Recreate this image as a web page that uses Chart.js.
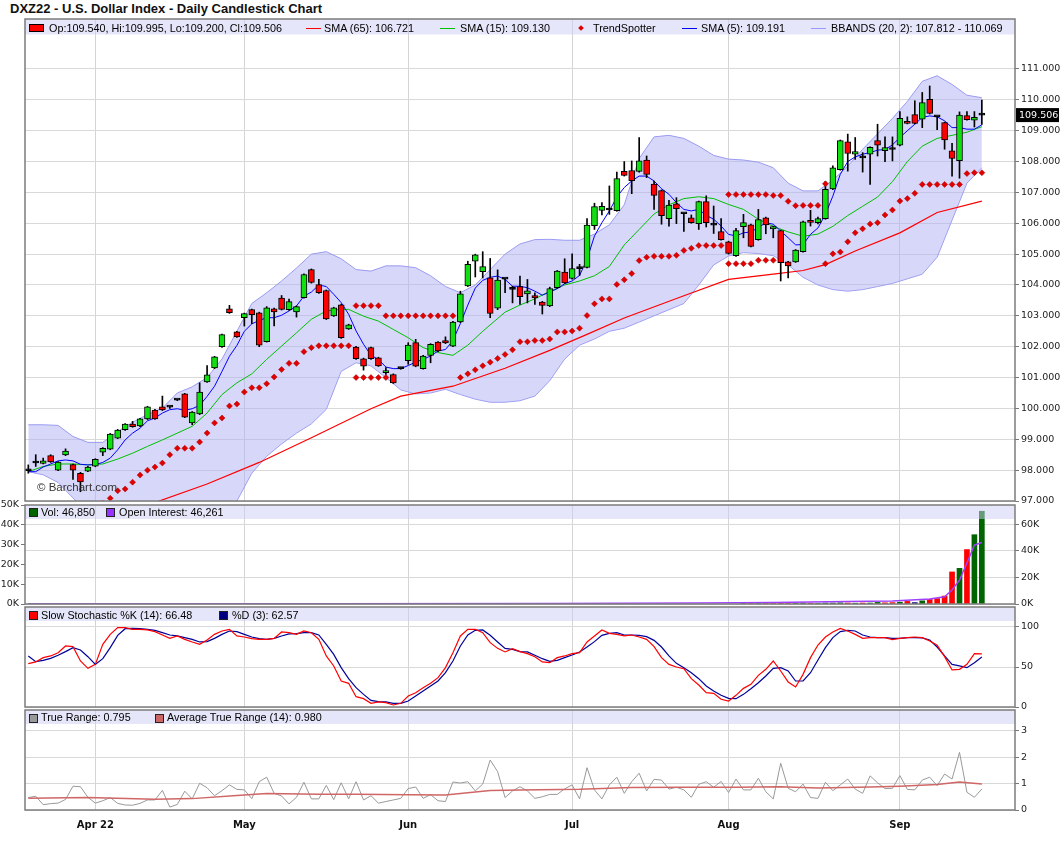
<!DOCTYPE html>
<html>
<head>
<meta charset="utf-8">
<title>DXZ22 - U.S. Dollar Index - Daily Candlestick Chart</title>
<script src="https://cdn.jsdelivr.net/npm/chart.js@4.4.1/dist/chart.umd.min.js"></script>
<style>
  body { margin: 0; background: #fff; }
  #page { position: relative; width: 1060px; height: 851px; overflow: hidden; background: #fff; }
  canvas { position: absolute; left: 0; }
  .title { position: absolute; left: 10px; top: 1px; font: bold 13px "Liberation Sans", Arial, sans-serif; color: #111; }
  .lt { position: absolute; font: 10.8px/13px "Liberation Sans", Arial, sans-serif; color: #000; white-space: nowrap; z-index: 5; }
  .sq { position: absolute; width: 7px; height: 7px; border: 1px solid #222; z-index: 5; }
  .ln { position: absolute; height: 1.5px; width: 15px; z-index: 5; }
  .wm { position: absolute; left: 37px; top: 481px; font: 11.5px "Liberation Sans", Arial, sans-serif; color: #333; z-index: 5; }
</style>
</head>
<body>
<div id="page">
  <div class="title">DXZ22 - U.S. Dollar Index - Daily Candlestick Chart</div>

  <canvas id="price" width="1060" height="500" style="top:10px"></canvas>
  <canvas id="vol" width="1060" height="115" style="top:497px"></canvas>
  <canvas id="stoch" width="1060" height="116" style="top:599px"></canvas>
  <canvas id="tr" width="1060" height="149" style="top:702px"></canvas>

  <!-- price legend -->
  <div class="sq" style="left:29px;top:24px;width:13px;height:6px;background:#f00;border-color:#000"></div>
  <div class="lt" style="left:49px;top:21.5px">Op:109.540, Hi:109.995, Lo:109.200, Cl:109.506</div>
  <div class="ln" style="left:306px;top:27.5px;background:#f00"></div>
  <div class="lt" style="left:324px;top:21.5px">SMA (65): 106.721</div>
  <div class="ln" style="left:440px;top:27.5px;background:#00c000"></div>
  <div class="lt" style="left:460px;top:21.5px">SMA (15): 109.130</div>
  <div class="sq" style="left:579px;top:25.5px;width:4px;height:4px;background:#d00;border:0;transform:rotate(45deg)"></div>
  <div class="lt" style="left:593px;top:21.5px">TrendSpotter</div>
  <div class="ln" style="left:682px;top:27.5px;background:#00f"></div>
  <div class="lt" style="left:701px;top:21.5px">SMA (5): 109.191</div>
  <div class="ln" style="left:811px;top:27.5px;background:#9999ff"></div>
  <div class="lt" style="left:831px;top:21.5px">BBANDS (20, 2): 107.812 - 110.069</div>
  <div class="wm">© Barchart.com</div>

  <!-- volume legend -->
  <div class="sq" style="left:29px;top:508px;background:#006400"></div>
  <div class="lt" style="left:41px;top:505.5px">Vol: 46,850</div>
  <div class="sq" style="left:106px;top:508px;background:#9933ff"></div>
  <div class="lt" style="left:119px;top:505.5px">Open Interest: 46,261</div>

  <!-- stochastic legend -->
  <div class="sq" style="left:29px;top:611px;background:#f00"></div>
  <div class="lt" style="left:41px;top:608.5px">Slow Stochastic %K (14): 66.48</div>
  <div class="sq" style="left:219px;top:611px;background:#000080"></div>
  <div class="lt" style="left:232px;top:608.5px">%D (3): 62.57</div>

  <!-- true range legend -->
  <div class="sq" style="left:29px;top:714px;background:#999"></div>
  <div class="lt" style="left:41px;top:711px">True Range: 0.795</div>
  <div class="sq" style="left:155px;top:714px;background:#cc6666"></div>
  <div class="lt" style="left:167px;top:711px">Average True Range (14): 0.980</div>
</div>

<script>
// Axe des dates : index du premier jour de chaque mois (21 mars -> 16 sept 2022)
const monthIdx = [9, 29, 51, 73, 94, 117];
const monthLabels = ['Apr 22', 'May', 'Jun', 'Jul', 'Aug', 'Sep'];

// Chandeliers (un par séance)
const opens = [97.98,98.23,98.22,98.47,98.00,98.49,98.18,97.90,97.97,98.13,
  98.58,98.68,99.04,99.31,99.49,99.43,99.66,99.95,100.05,100.04,
  100.27,100.47,99.53,99.82,100.86,101.31,102.00,103.23,102.48,102.94,
  103.20,103.10,102.16,103.23,103.58,103.20,103.13,103.59,104.50,104.01,
  103.82,103.00,103.36,102.58,101.99,101.61,101.97,101.64,101.16,101.10,
  101.29,101.55,102.13,101.29,101.72,102.15,102.20,102.02,102.80,103.97,
  104.77,104.43,104.23,103.25,104.19,103.86,103.95,103.71,103.66,103.45,
  103.32,103.91,104.42,104.21,104.53,104.57,105.92,106.42,106.43,106.41,
  107.68,107.71,107.68,108.05,107.27,107.06,106.15,106.63,106.31,106.18,
  105.99,106.70,105.94,105.73,105.40,104.95,105.89,105.95,105.47,106.18,
  105.82,105.76,104.75,104.75,105.08,106.09,106.02,106.15,107.11,107.74,
  108.64,108.24,108.12,108.24,108.68,108.35,108.39,108.53,109.30,109.52,
  109.37,110.02,109.45,109.26,108.35,108.03,109.49,109.34,109.54];
const highs = [98.17,98.50,98.39,98.50,98.28,98.69,98.20,97.93,98.12,98.37,
  98.73,99.19,99.32,99.51,99.58,99.68,100.07,99.97,100.40,100.06,
  100.29,100.49,99.90,100.83,101.39,101.69,102.41,103.34,102.50,103.09,
  103.22,103.12,103.30,103.25,103.66,103.54,103.32,104.36,104.52,104.18,
  103.84,103.28,103.38,102.73,102.01,101.63,101.99,101.66,101.32,101.12,
  101.31,102.13,102.24,101.72,102.10,102.17,102.32,102.82,103.80,104.77,
  105.00,105.08,104.86,104.49,104.21,103.96,104.29,104.18,103.75,103.47,
  103.93,104.47,104.85,105.01,104.67,106.15,106.65,106.67,107.21,107.66,
  108.00,108.02,108.78,108.18,107.37,107.08,106.74,106.83,106.33,106.27,
  106.72,106.89,106.56,106.15,105.42,105.84,106.29,105.97,106.45,106.20,
  105.91,105.78,104.77,105.15,106.07,106.42,106.20,107.35,107.86,108.70,
  108.89,108.78,108.29,108.48,109.21,108.80,108.80,109.62,109.45,109.97,
  110.24,110.45,109.47,109.28,108.59,109.61,109.62,109.62,109.995];
const lows = [97.90,98.12,98.20,98.25,97.98,98.47,97.70,97.30,97.95,98.11,
  98.47,98.66,99.02,99.29,99.39,99.41,99.64,99.64,99.93,100.00,
  100.25,99.70,99.47,99.80,100.84,101.29,101.98,103.08,102.30,102.67,
  102.75,102.00,102.15,102.67,103.19,103.18,102.96,103.57,104.06,103.73,
  102.88,102.98,102.27,102.56,101.59,101.24,101.59,101.36,101.10,100.81,
  101.27,101.43,101.35,101.27,101.48,101.84,102.10,102.00,102.78,103.95,
  104.26,104.23,102.94,103.20,103.75,103.42,103.37,103.42,103.37,103.06,
  103.30,103.89,104.05,104.19,104.31,104.55,105.80,106.27,106.29,106.39,
  107.53,106.96,107.66,107.48,106.45,105.97,105.91,105.99,105.74,106.00,
  105.80,105.88,105.67,105.45,105.00,104.93,105.53,105.23,105.45,105.66,
  105.53,104.13,104.23,104.73,105.06,105.91,105.98,106.13,107.09,107.72,
  107.69,108.07,107.66,107.26,108.18,108.00,108.02,108.51,109.22,109.22,
  109.10,109.54,109.03,108.40,107.53,107.46,109.34,109.12,109.20];
const closes = [97.98,98.23,98.30,98.27,98.26,98.62,98.00,97.62,98.10,98.35,
  98.71,99.17,99.30,99.49,99.41,99.66,100.05,99.66,99.95,100.04,
  100.27,99.72,99.88,100.53,101.09,101.67,102.39,103.10,102.32,103.07,
  103.04,102.05,103.26,103.13,103.21,103.46,103.30,104.34,104.08,103.75,
  102.90,103.26,102.29,102.71,101.61,101.37,101.61,101.38,101.22,100.83,
  101.29,102.05,101.37,101.70,102.08,101.86,102.12,102.80,103.71,104.67,
  104.98,104.60,103.08,104.16,104.19,103.86,103.62,103.81,103.58,103.34,
  103.88,104.45,104.07,104.53,104.53,105.94,106.54,106.55,106.43,107.45,
  107.55,107.38,108.02,107.58,106.90,106.25,106.59,106.47,106.31,106.02,
  106.70,106.02,105.94,105.47,105.02,105.76,106.02,105.25,106.12,105.95,
  105.89,104.72,104.62,105.13,106.05,106.03,106.15,107.10,107.80,108.68,
  108.26,108.32,108.12,108.46,108.53,108.45,108.39,109.40,109.24,109.24,
  109.91,109.56,109.45,108.70,108.10,109.51,109.36,109.43,109.506];

// Moyenne mobile 5 jours (lue séance par séance)
const sma5 = [97.95,97.95,98.10,98.20,98.30,98.33,98.30,98.19,98.17,98.18,
  98.25,98.39,98.66,98.98,99.20,99.36,99.60,99.69,99.85,99.96,
  99.99,99.94,99.99,100.10,100.39,100.72,101.20,101.69,102.04,102.50,
  102.74,102.85,102.94,102.94,103.02,103.16,103.32,103.64,103.77,104.00,
  103.95,103.70,103.43,103.05,102.51,102.08,101.72,101.59,101.34,101.29,
  101.29,101.39,101.50,101.59,101.70,101.86,101.91,102.20,102.75,103.35,
  103.90,104.15,104.25,104.29,104.18,103.96,103.96,103.91,103.80,103.67,
  103.77,103.88,104.04,104.13,104.31,104.83,105.59,106.02,106.40,106.85,
  107.16,107.37,107.53,107.53,107.37,107.12,106.94,106.67,106.45,106.40,
  106.45,106.26,106.13,105.91,105.64,105.59,105.69,105.72,105.86,106.02,
  105.97,105.75,105.53,105.30,105.31,105.64,105.85,106.29,106.88,107.59,
  108.00,108.15,108.24,108.29,108.37,108.39,108.54,108.78,109.00,109.21,
  109.43,109.48,109.45,109.32,109.10,109.10,109.05,109.05,109.19];

// Courbes lissées : [index de séance, valeur]
const sma15 = [[0,97.95],[2,98.12],[4,98.2],[6,98.2],[8,98.17],[10,98.2],[12,98.36],[14,98.55],
  [16,98.77],[18,98.98],[20,99.2],[22,99.42],[24,99.85],[26,100.45],[28,100.83],[30,101.12],
  [32,101.59],[34,102.02],[36,102.45],[38,102.89],[40,103.16],[42,103.21],[43,103.21],[45,102.99],
  [47,102.83],[49,102.56],[51,102.29],[53,101.97],[55,101.81],[57,101.72],[59,102.05],[61,102.5],
  [64,103.12],[66,103.35],[68,103.55],[70,103.8],[72,104.0],[74,104.13],[76,104.3],[78,104.6],
  [80,105.3],[82,105.8],[84,106.3],[86,106.6],[88,106.8],[90,106.86],[92,106.8],[94,106.61],
  [96,106.45],[98,106.13],[100,105.9],[102,105.72],[104,105.58],[106,105.65],[108,105.9],[110,106.25],
  [112,106.55],[114,106.85],[116,107.35],[118,108.0],[120,108.5],[122,108.75],[124,108.85],[126,108.95],[128,109.13]];
const sma65 = [[8,96.1],[17,96.95],[24,97.55],[31,98.25],[38,99.05],[46,99.99],[50,100.4],[57,100.72],
  [64,101.3],[70,101.88],[75,102.4],[80,102.93],[88,103.65],[94,104.18],[100,104.35],[104,104.47],
  [107,104.66],[111,105.1],[117,105.69],[122,106.35],[128,106.72]];
const bbUpper = [[0,99.47],[2,99.47],[4,99.45],[6,99.09],[8,98.9],[10,98.9],[12,99.25],[14,99.55],
  [16,99.8],[18,100.01],[20,100.5],[22,100.7],[24,101.0],[26,101.6],[28,102.5],[30,103.4],
  [32,103.75],[34,104.13],[36,104.55],[38,105.0],[40,105.08],[42,104.85],[44,104.5],[46,104.45],
  [48,104.62],[50,104.62],[52,104.56],[54,104.3],[56,103.95],[58,103.75],[60,104.0],[62,104.5],
  [64,105.0],[66,105.33],[68,105.47],[70,105.48],[72,105.45],[74,105.45],[76,105.65],[78,105.95],
  [80,106.6],[82,108.1],[84,108.8],[86,108.85],[88,108.75],[90,108.5],[92,108.2],[94,108.08],
  [96,108.05],[98,107.98],[100,107.8],[102,107.3],[104,107.05],[106,107.05],[108,107.4],[110,107.85],
  [112,108.4],[114,108.9],[116,109.4],[118,109.95],[120,110.6],[122,110.78],[124,110.5],[126,110.15],[128,110.07]];
const bbLower = [[0,97.95],[2,97.85],[4,97.6],[6,97.1],[8,96.6],[10,96.3],[12,96.1],[14,96.0],
  [16,96.0],[18,96.1],[20,96.2],[22,96.4],[24,96.7],[26,96.9],[28,97.0],[30,97.9],
  [32,98.45],[34,98.85],[36,99.2],[38,99.5],[40,99.97],[42,101.2],[44,101.48],[46,101.38],
  [48,101.0],[50,100.6],[52,100.47],[54,100.5],[56,100.62],[58,100.45],[60,100.3],[62,100.2],
  [64,100.2],[66,100.25],[68,100.4],[70,100.9],[72,101.6],[74,102.05],[76,102.25],[78,102.5],
  [80,102.6],[82,102.8],[84,103.0],[86,103.2],[88,103.4],[90,104.0],[92,104.65],[94,104.94],
  [96,105.05],[98,105.02],[100,104.95],[102,104.65],[104,104.25],[106,104.0],[108,103.85],[110,103.8],
  [112,103.85],[114,103.95],[116,104.05],[118,104.2],[120,104.35],[122,104.9],[124,106.1],[126,107.3],[128,107.8]];

// TrendSpotter (points rouges)
const trendSpotter = [[10,96.93],[11,97.09],[12,97.33],[13,97.39],[14,97.61],[15,97.84],[16,98.0],[17,98.1],
  [18,98.23],[19,98.5],[20,98.71],[21,98.71],[22,98.71],[23,98.91],[24,99.2],[25,99.53],[26,99.69],
  [27,100.08],[28,100.14],[29,100.53],[30,100.67],[31,100.67],[32,100.8],[33,101.02],[34,101.26],
  [35,101.46],[36,101.46],[37,101.84],[38,101.97],[39,102.03],[40,102.03],[41,102.03],[42,102.03],[43,102.03],
  [44,103.33],[45,103.33],[46,103.33],[47,103.33],
  [44,101.0],[45,101.0],[46,101.0],[47,101.0],[48,101.0],
  [48,103.0],[49,103.0],[50,103.0],[51,103.0],[52,103.0],[53,103.0],[54,103.0],[55,103.0],[56,103.0],[57,103.0],
  [58,101.0],[59,101.12],[60,101.25],[61,101.38],[62,101.5],[63,101.62],[64,101.75],[65,101.9],
  [66,102.16],[67,102.16],[68,102.2],[69,102.2],[70,102.25],[71,102.48],[72,102.48],[73,102.51],
  [74,102.6],[75,103.01],[76,103.39],[77,103.55],[78,103.55],[79,104.02],[80,104.17],[81,104.37],
  [82,104.79],[83,104.9],[84,104.93],[85,104.93],[86,104.93],[87,104.96],[88,105.12],[89,105.19],
  [90,105.28],[91,105.28],[92,105.28],[93,105.28],
  [94,106.93],[95,106.93],[96,106.93],[97,106.93],[98,106.93],[99,106.93],[100,106.9],[101,106.9],
  [102,106.71],[103,106.57],[104,106.58],[105,106.58],[106,106.58],[107,107.28],
  [94,104.69],[95,104.69],[96,104.69],[97,104.69],[98,104.8],[99,104.8],[100,104.8],
  [107,104.69],[108,105.01],[109,105.07],[110,105.4],[111,105.69],[112,105.82],[113,105.98],[114,106.02],
  [115,106.27],[116,106.43],[117,106.72],[118,106.8],[119,106.97],[120,107.26],[121,107.26],[122,107.26],
  [123,107.26],[124,107.26],[125,107.26],[126,107.61],[127,107.64],[128,107.64]];

// Volume et open interest (milliers de contrats)
const volume = [[96,0.2],[97,0.2],[98,0.3],[99,0.2],[100,0.3],[101,0.4],[102,0.3],[103,0.4],[104,0.5],
  [105,0.4],[106,0.3],[107,0.5],[108,0.5],[109,0.6],[110,0.5],[111,0.4],[112,0.5],[113,0.5],[114,0.8],
  [115,0.6],[116,0.7],[117,0.9],[118,1.3],[119,0.7],[120,1.6],[121,2.3],[122,2.7],[123,4.0],[124,16.2],
  [125,18.0],[126,27.5],[127,35.0],[128,46.85]];
const openInterest = [[0,0.1],[40,0.2],[70,0.4],[90,0.8],[100,1.2],[110,1.8],[116,2.3],[121,3.8],
  [123,5.5],[124,10.5],[125,18.0],[126,30.8],[127,44.4],[128,46.26]];

// Stochastique lent
const stochK = [54.2,56.3,61.7,63.8,67.9,76.3,75.4,57.5,48.3,53.3,
  78.3,90.8,99.2,99.2,97.1,97.1,96.3,94.2,90,85.8,
  88.8,84.6,81.3,78.3,83.8,90.8,95,97.1,88.8,87.5,
  85.4,84.6,84.6,85.8,93.8,92.9,90.8,95,92.9,84.6,
  63.8,51.3,32.5,29.6,12.9,10.4,4.6,6.3,5.4,2.5,
  4.6,13.8,17.9,24.2,29.6,36.7,49.2,67.9,88.8,97.1,
  97.1,92.9,80.4,73.3,68.8,72.9,69.2,66.7,62.9,56.3,
  55.4,61.7,63.8,66.7,67.9,81.3,88.8,96.3,92.1,90.8,
  88.8,90,87.5,84.6,75.4,61.7,53.3,50,47.9,35.4,
  27.5,17.9,17.1,9.6,7.5,14.6,23.3,28.3,39.6,47.1,
  57.5,45,31.3,25,40.8,61.7,77.5,87.5,93.8,98.3,
  95,90.8,85.8,86.7,86.7,86.7,84.2,85.8,86.7,87.5,
  86.7,82.5,77.1,62.9,46.3,47.1,53.3,66.7,66.48];
const stochD = [63.8,56.7,58.3,60.8,64.6,69.2,74.2,71.3,62.9,53.3,
  60.4,74.2,89.6,97.9,98.3,97.9,97.1,95.8,92.9,90,
  88.8,86.7,84.6,81.3,81.7,85.8,90.8,95,94.2,90.8,
  87.5,85.4,84.6,85.8,88.8,91.3,91.7,92.9,92.9,90,
  78.3,65.8,49.2,35.4,24.2,15.8,8.3,6.7,6.3,4.6,
  4.6,7.5,13.8,20,26.3,32.5,42.9,57.5,76.3,90,
  95.8,96.3,89.6,81.3,73.3,72.1,69.2,68.8,64.6,60.4,
  57.1,58.3,61.7,65,68.8,75,81.7,89.6,92.1,92.9,
  90,90,89.6,87.9,83.3,75,63.8,54.6,49.2,42.9,
  35.4,26.3,20,14.6,10.8,10.4,15.8,22.9,30.4,38.8,
  48.3,49.2,45,32.5,32.5,42.9,58.8,74.2,86.7,94.2,
  95.8,95,90,87.5,86.7,86.7,85.8,85.8,86.7,86.7,
  86.3,83.8,75,63.8,53.3,51.3,49.2,55.4,62.57];

// True range et ATR (14)
const trueRange = [0.47,0.52,0.2,0.24,0.26,0.4,0.9,0.88,0.48,0.26,
  0.35,0.47,0.25,0.19,0.18,0.25,0.38,0.38,0.74,0.11,
  0.21,0.71,0.42,1.01,0.84,0.54,0.73,0.95,0.78,0.76,
  0.43,1.07,1.24,0.63,0.53,0.23,0.48,1.05,0.42,0.42,
  0.93,0.39,1.03,0.42,1.07,0.38,0.54,0.26,0.32,0.38,
  0.44,0.81,0.87,0.44,0.58,0.35,0.32,1.06,1.02,1.07,
  0.72,0.98,1.89,1.45,0.47,0.72,0.88,0.72,0.44,0.5,
  0.59,0.59,0.8,0.95,0.42,1.6,0.76,0.42,0.95,1.24,
  0.63,1.07,1.39,0.72,1.16,1.13,0.79,0.86,0.76,0.48,
  0.97,1.07,0.86,1.08,0.66,1.17,0.76,0.76,1.2,0.69,
  0.42,1.77,0.82,0.69,0.98,0.47,0.44,1.05,0.73,0.95,
  1.17,0.79,0.63,1.29,1.03,0.81,0.82,1.3,0.78,0.76,
  1.13,1.24,0.92,1.36,1.17,2.18,0.67,0.48,0.795];
const atr = [[0,0.44],[8,0.47],[17,0.41],[22,0.43],[28,0.55],[32,0.62],[39,0.6],[44,0.6],[51,0.58],
  [56,0.57],[62,0.74],[66,0.76],[74,0.78],[81,0.85],[88,0.86],[95,0.86],[101,0.88],[106,0.83],
  [113,0.87],[117,0.9],[122,0.96],[125,1.06],[128,0.98]];

// ---------- helpers ----------
const tickFont = { family: 'DejaVu Sans', size: 9.5 };
const pts = pairs => pairs.map(p => ({ x: p[0], y: p[1] }));
const series = arr => arr.map((v, i) => ({ x: i, y: v }));

function xAxis(showLabels) {
  return {
    type: 'linear', min: -0.443, max: 132.45, offset: false,
    afterBuildTicks: s => { s.ticks = monthIdx.map(v => ({ value: v })); },
    afterFit: s => { s.height = showLabels ? 41 : 0; },
    grid: { color: '#d4d4d4', drawTicks: false, offset: false },
    border: { display: false },
    ticks: {
      display: showLabels, autoSkip: false, maxRotation: 0, padding: 9, color: '#111',
      font: { family: 'DejaVu Sans', size: 10, weight: 'bold' },
      callback: v => monthLabels[monthIdx.indexOf(v)]
    }
  };
}

function yAxis(min, max, tickVals, fmt, position, withGrid) {
  return {
    type: 'linear', position: position || 'right', min: min, max: max,
    afterBuildTicks: s => { s.ticks = tickVals.map(v => ({ value: v })); },
    afterFit: s => { s.width = position === 'left' ? 25 : 45; },
    grid: { color: '#d9d9d9', tickColor: '#777', tickLength: 4, drawOnChartArea: withGrid !== false },
    border: { display: false },
    ticks: { color: '#222', font: tickFont, padding: 2, callback: fmt }
  };
}

// bandeau de légende semi-transparent + cadre gris
function panelDeco(stripH) {
  return {
    id: 'deco',
    afterDatasetsDraw(chart) {
      const { ctx, chartArea: a } = chart;
      ctx.save();
      ctx.fillStyle = 'rgba(205,205,245,0.5)';
      ctx.fillRect(a.left, a.top, a.right - a.left, stripH);
      ctx.strokeStyle = '#7c7c7c';
      ctx.lineWidth = 1.5;
      ctx.strokeRect(a.left, a.top, a.right - a.left, a.bottom - a.top);
      ctx.restore();
    }
  };
}

const baseOptions = (padLeft, padTop, padBottom) => ({
  responsive: false,
  animation: false,
  events: [],
  layout: { padding: { left: padLeft, right: 0, top: padTop, bottom: padBottom } },
  plugins: { legend: { display: false }, tooltip: { enabled: false } }
});

// ---------- graphique des prix ----------
const candleColors = opens.map((o, i) => {
  const c = closes[i];
  if (Math.abs(c - o) < 0.04) return '#000000';
  return c > o ? '#10e010' : '#ff0000';
});

// étiquette du dernier cours
const lastPriceTag = {
  id: 'lastPrice',
  afterDraw(chart) {
    const { ctx } = chart;
    const last = closes[closes.length - 1];
    const y = chart.scales.y.getPixelForValue(last);
    ctx.save();
    ctx.fillStyle = '#000';
    ctx.fillRect(1016, y - 7, 43, 14);
    ctx.fillStyle = '#fff';
    ctx.font = '9.5px "DejaVu Sans"';
    ctx.textBaseline = 'middle';
    ctx.fillText(last.toFixed(3), 1019, y + 0.5);
    ctx.restore();
  }
};

const priceTicks = [97, 98, 99, 100, 101, 102, 103, 104, 105, 106, 107, 108, 109, 110, 111];

new Chart(document.getElementById('price'), {
  type: 'bar',
  data: {
    datasets: [
      {
        type: 'line', label: 'TrendSpotter', data: pts(trendSpotter), showLine: false,
        pointStyle: 'rectRot', pointRadius: 3, backgroundColor: '#e00000', borderColor: '#b00000',
        borderWidth: 0.5, order: 0
      },
      {
        label: 'body', data: opens.map((o, i) => ({ x: i, y: [Math.min(o, closes[i]), Math.max(o, closes[i])] })),
        backgroundColor: candleColors, borderColor: '#000', borderWidth: 1, borderSkipped: false,
        barThickness: 6, minBarLength: 2, grouped: false, order: 1
      },
      {
        label: 'wick', data: lows.map((l, i) => ({ x: i, y: [l, highs[i]] })),
        backgroundColor: '#000', barThickness: 1, grouped: false, order: 2
      },
      { type: 'line', label: 'SMA (5)', data: series(sma5), borderColor: '#0000ff', borderWidth: 1, pointRadius: 0, order: 3 },
      { type: 'line', label: 'SMA (15)', data: pts(sma15), borderColor: '#00c000', borderWidth: 1, pointRadius: 0, order: 3 },
      { type: 'line', label: 'SMA (65)', data: pts(sma65), borderColor: '#ff0000', borderWidth: 1.2, pointRadius: 0, order: 3 },
      {
        type: 'line', label: 'BB up', data: pts(bbUpper), borderColor: '#9a9af2', borderWidth: 1,
        pointRadius: 0, fill: '+1', backgroundColor: 'rgba(175,175,245,0.5)', order: 5
      },
      { type: 'line', label: 'BB low', data: pts(bbLower), borderColor: '#9a9af2', borderWidth: 1, pointRadius: 0, fill: false, order: 5 }
    ]
  },
  options: Object.assign(baseOptions(25, 9, 9), {
    scales: {
      x: xAxis(false),
      y: yAxis(97, 112.62, priceTicks, v => v.toFixed(3))
    }
  }),
  plugins: [panelDeco(15.5), lastPriceTag]
});

// ---------- volume / open interest ----------
const volColors = volume.map(p => {
  const i = p[0];
  const d = closes[i] - closes[i - 1];
  if (Math.abs(d) < 0.005) return '#000080';
  return d > 0 ? '#006400' : '#ff0000';
});

new Chart(document.getElementById('vol'), {
  type: 'bar',
  data: {
    datasets: [
      {
        type: 'line', label: 'Open Interest', data: pts(openInterest), yAxisID: 'yo',
        borderColor: '#a040ff', borderWidth: 1.5, pointRadius: 0, order: 0
      },
      {
        label: 'Vol', data: pts(volume), yAxisID: 'yv', backgroundColor: volColors,
        barThickness: 5, order: 1
      }
    ]
  },
  options: Object.assign(baseOptions(0, 8, 8), {
    scales: {
      x: xAxis(false),
      yv: yAxis(0, 50, [0, 10, 20, 30, 40, 50], v => v + 'K', 'left', false),
      yo: yAxis(0, 74.5, [0, 20, 40, 60], v => v + 'K', 'right', true)
    }
  }),
  plugins: [panelDeco(14)]
});

// ---------- stochastique ----------
new Chart(document.getElementById('stoch'), {
  type: 'line',
  data: {
    datasets: [
      { label: '%K', data: series(stochK), borderColor: '#ff0000', borderWidth: 1.2, pointRadius: 0, order: 0 },
      { label: '%D', data: series(stochD), borderColor: '#000099', borderWidth: 1.2, pointRadius: 0, order: 1 }
    ]
  },
  options: Object.assign(baseOptions(25, 8, 8), {
    scales: {
      x: xAxis(false),
      y: yAxis(0, 125, [0, 50, 100], v => String(v))
    }
  }),
  plugins: [panelDeco(14)]
});

// ---------- true range ----------
new Chart(document.getElementById('tr'), {
  type: 'line',
  data: {
    datasets: [
      { label: 'ATR', data: pts(atr), borderColor: '#d06666', borderWidth: 1.5, pointRadius: 0, order: 0 },
      { label: 'True Range', data: series(trueRange), borderColor: '#999999', borderWidth: 1, pointRadius: 0, order: 1 }
    ]
  },
  options: Object.assign(baseOptions(25, 8, 0), {
    scales: {
      x: xAxis(true),
      y: yAxis(0, 3.78, [0, 1, 2, 3], v => String(v))
    }
  }),
  plugins: [panelDeco(14)]
});
</script>
</body>
</html>
